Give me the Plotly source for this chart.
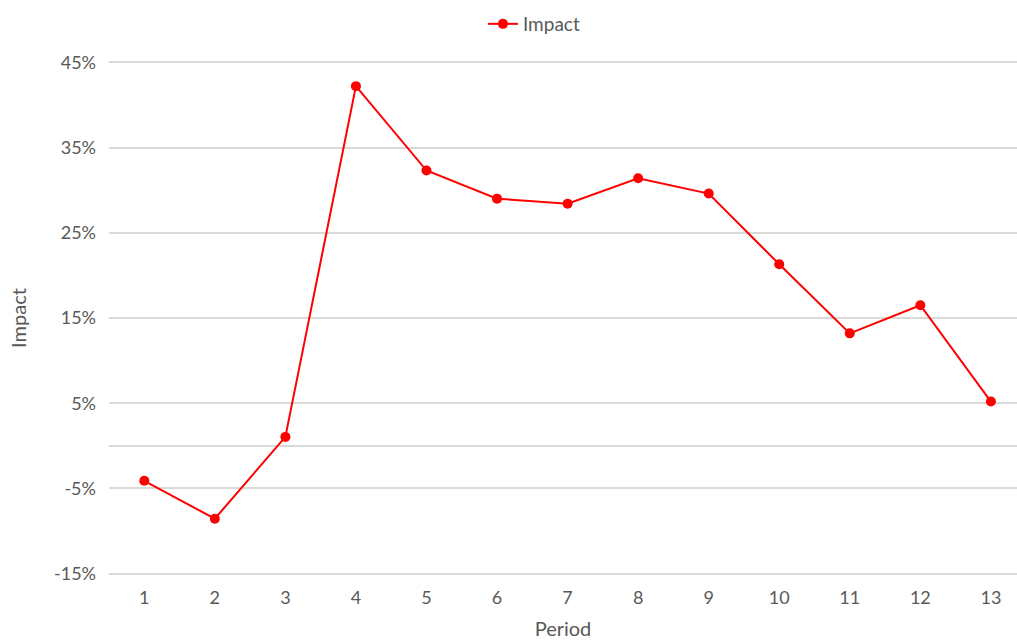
import plotly.graph_objects as go

# Impact by period
periods = [1, 2, 3, 4, 5, 6, 7, 8, 9, 10, 11, 12, 13]
impact = [-0.041, -0.0855, 0.0105, 0.422, 0.323, 0.290, 0.284, 0.314, 0.296, 0.213, 0.132, 0.165, 0.052]

y_ticks = [-0.15, -0.05, 0.05, 0.15, 0.25, 0.35, 0.45]
y_tick_text = ["-15%", "-5%", "5%", "15%", "25%", "35%", "45%"]

text_color = "#595959"
grid_color = "#d9d9d9"
font_family = "Lato, 'Open Sans', sans-serif"

fig = go.Figure()
fig.add_trace(go.Scatter(
    x=periods,
    y=impact,
    mode="lines+markers",
    name="Impact",
    line=dict(color="#ff0000", width=2),
    marker=dict(color="#ff0000", size=10),
))

fig.update_layout(
    width=1017,
    height=642,
    margin=dict(l=109, r=0, t=61, b=67),
    paper_bgcolor="white",
    plot_bgcolor="white",
    font=dict(family=font_family, color=text_color, size=18),
    showlegend=True,
    legend=dict(
        orientation="h",
        x=0.468,
        xanchor="center",
        y=1 - 24 / 642,
        yanchor="middle",
        yref="container",
        font=dict(size=19, color=text_color),
    ),
    xaxis=dict(
        tickmode="array",
        tickvals=periods,
        ticktext=[str(p) for p in periods],
        range=[0.5, 13.37],
        showgrid=False,
        zeroline=False,
        showline=False,
        ticks="",
        ticklabelstandoff=10,
        title=dict(text="Period", font=dict(size=20, color=text_color), standoff=14),
        tickfont=dict(size=18, color=text_color),
    ),
    yaxis=dict(
        tickmode="array",
        tickvals=y_ticks,
        ticktext=y_tick_text,
        range=[-0.1515, 0.4515],
        showgrid=True,
        gridcolor=grid_color,
        gridwidth=1.5,
        zeroline=True,
        zerolinecolor=grid_color,
        zerolinewidth=1.5,
        showline=False,
        ticks="",
        ticklabelstandoff=12,
        title=dict(text="Impact", font=dict(size=20, color=text_color), standoff=22),
        tickfont=dict(size=18, color=text_color),
    ),
)

fig.write_html("out.html")
